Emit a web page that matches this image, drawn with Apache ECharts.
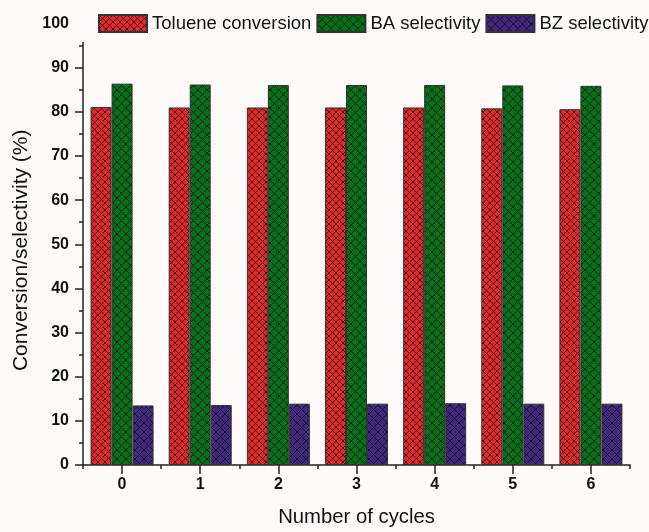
<!DOCTYPE html>
<html>
<head>
<meta charset="utf-8">
<script src="https://cdn.jsdelivr.net/npm/echarts@6/dist/echarts.min.js"></script>
<style>
html,body{margin:0;padding:0;background:#fefafa;}
#chart{width:649px;height:532px;}
</style>
</head>
<body>
<div id="chart"></div>
<script>
// Data
const categories = ['0', '1', '2', '3', '4', '5', '6'];
const tolueneConversion = [81.1, 81.0, 81.0, 81.0, 81.0, 80.8, 80.6];
const baSelectivity = [86.4, 86.2, 86.1, 86.1, 86.1, 86.0, 85.9];
const bzSelectivity = [13.5, 13.6, 13.9, 13.9, 14.0, 13.9, 13.9];
const seriesNames = ['Toluene conversion', 'BA selectivity', 'BZ selectivity'];
const yTickMax = 100;

function hatch(base, size) {
  const c = document.createElement('canvas');
  c.width = size; c.height = size;
  const ctx = c.getContext('2d');
  ctx.fillStyle = base;
  ctx.fillRect(0, 0, size, size);
  ctx.strokeStyle = 'rgba(20,10,10,0.8)';
  ctx.lineWidth = 1;
  ctx.beginPath();
  ctx.moveTo(0, 0); ctx.lineTo(size, size);
  ctx.moveTo(size, 0); ctx.lineTo(0, size);
  ctx.stroke();
  return { image: c, repeat: 'repeat' };
}

const fills = [hatch('#e6282a', 7), hatch('#057118', 9), hatch('#40277f', 9)];
const font = '"Liberation Sans", Arial, sans-serif';
const axisColor = '#222';

const chart = echarts.init(document.getElementById('chart'), null, { renderer: 'canvas' });

const dataSets = [tolueneConversion, baSelectivity, bzSelectivity];
const series = dataSets.map((d, i) => ({
  name: seriesNames[i],
  type: 'bar',
  data: d,
  barWidth: 21,
  barGap: '0%',
  itemStyle: { color: fills[i], borderColor: '#333', borderWidth: 1 }
}));

chart.setOption({
  backgroundColor: '#fefafa',
  animation: false,
  textStyle: { fontFamily: font },
  legend: {
    left: 72,
    top: 9,
    width: 640,
    padding: [5, 0, 9, 26],
    itemGap: 5,
    itemWidth: 48,
    itemHeight: 17,
    icon: 'rect',
    backgroundColor: '#fefafa',
    textStyle: { fontSize: 18.5, color: '#111', fontFamily: font, lineHeight: 18 },
    data: seriesNames
  },
  grid: { left: 83, right: 19, top: 23.6, bottom: 63, containLabel: false },
  xAxis: [{
    type: 'category',
    data: categories,
    boundaryGap: true,
    name: 'Number of cycles',
    nameLocation: 'middle',
    nameGap: 42,
    nameTextStyle: { fontSize: 20.3, color: '#111', fontFamily: font },
    axisLine: { show: true, lineStyle: { color: axisColor, width: 1.5 } },
    axisTick: { show: true, alignWithLabel: true, length: 9, lineStyle: { color: axisColor, width: 1.5 } },
    axisLabel: { fontSize: 16, fontWeight: 'bold', color: '#111', margin: 12, fontFamily: font }
  }, {
    type: 'category',
    data: categories,
    position: 'bottom',
    boundaryGap: true,
    axisLine: { show: false },
    axisTick: { show: true, length: 4, lineStyle: { color: axisColor, width: 1.5 } },
    axisLabel: { show: false }
  }],
  yAxis: {
    type: 'value',
    min: 0,
    max: yTickMax,
    interval: 10,
    name: 'Conversion/selectivity (%)',
    nameLocation: 'middle',
    nameGap: 50,
    nameTextStyle: { fontSize: 21, color: '#111', fontFamily: font, padding: [0, 12, 0, 0] },
    axisLine: { show: true, lineStyle: { color: axisColor, width: 1.5 } },
    axisTick: { show: true, length: 8, lineStyle: { color: axisColor, width: 1.5 } },
    minorTick: { show: true, splitNumber: 2, length: 4, lineStyle: { color: axisColor, width: 1.5 } },
    splitLine: { show: false },
    axisLabel: { fontSize: 16, fontWeight: 'bold', color: '#111', margin: 14, fontFamily: font }
  },
  series: series
});
</script>
</body>
</html>
